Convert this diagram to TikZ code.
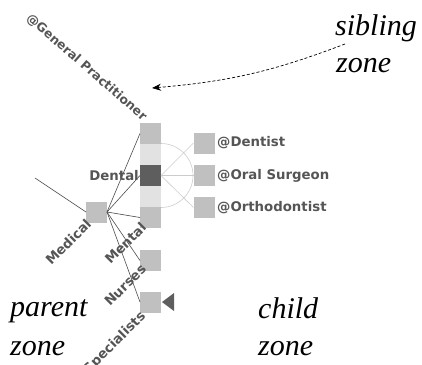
\documentclass[tikz,border=0pt]{standalone}
\usepackage{fontspec}
\setmainfont{Liberation Serif}
\newfontfamily\labelfont{DejaVu Sans}
\usetikzlibrary{arrows.meta}
\definecolor{boxgray}{HTML}{C0C0C0}
\definecolor{boxlight}{HTML}{E2E2E2}
\definecolor{boxdark}{HTML}{5E5E5E}
\definecolor{labgray}{HTML}{555555}
\definecolor{linkgray}{HTML}{CCCCCC}
\begin{document}
\begin{tikzpicture}[x=1pt,y=-1pt,
  cell/.style={rectangle,minimum width=21pt,minimum height=21pt,inner sep=0pt,outer sep=0pt},
  gbox/.style={cell,fill=boxgray},
  lbox/.style={cell,fill=boxlight},
  dbox/.style={cell,fill=boxdark},
  lab/.style={font=\labelfont\bfseries\fontsize{13.3}{15}\selectfont,text=labgray,inner sep=0pt},
  zonetxt/.style={font=\itshape\fontsize{30}{33}\selectfont,inner sep=0pt,anchor=base west},
  parentlink/.style={draw=black!70,line width=0.6pt},
  childlink/.style={draw=linkgray,line width=0.6pt}]
\useasboundingbox (0,0) rectangle (422,364);
% column
\node[gbox] (gp) at (150.5,133.5) {};
\node[lbox] (l1) at (150.5,154.5) {};
\node[dbox] (dental) at (150.5,175.5) {};
\node[lbox] (l2) at (150.5,196.5) {};
\node[gbox] (mental) at (150.5,217.5) {};
\node[gbox] (nurses) at (150.5,260.5) {};
\node[gbox] (spec) at (150.5,302) {};
\node[gbox] (medical) at (96.5,212) {};
% children
\node[gbox] (dentist) at (204,143) {};
\node[gbox] (oral) at (204,175.5) {};
\node[gbox] (ortho) at (204,207.5) {};
% arc
\draw[linkgray,line width=0.6pt] (dental.east) ++(0,-32) arc[start angle=-90,end angle=90,radius=32];
% child links
\foreach \c in {dentist,oral,ortho} \draw[childlink] (dental.east) -- (\c.west);
% parent links
\coordinate (far) at (35,178);
\draw[parentlink] (far) -- (medical.west);
\foreach \c in {gp,dental,mental,nurses,spec} \draw[parentlink] (medical.east) -- (\c.west);
% triangle
\fill[boxdark] (162,302) -- (174,293) -- (174,311) -- cycle;
% labels
\node[lab,anchor=west] at (217,143) {@Dentist};
\node[lab,anchor=west] at (217,175.5) {@Oral Surgeon};
\node[lab,anchor=west] at (217,207.5) {@Orthodontist};
\node[lab,anchor=east] at (139,176) {Dental};
\node[lab,anchor=south east,rotate=-41,font=\labelfont\bfseries\fontsize{12.4}{14}\selectfont] at ([xshift=1pt]gp.north west) {@General Practitioner};
\node[lab,anchor=north east,rotate=45] at ([xshift=-1pt,yshift=5pt]medical.south west) {Medical};
\node[lab,anchor=north east,rotate=45] at ([xshift=0pt,yshift=7pt]mental.south west) {Mental};
\node[lab,anchor=north east,rotate=45] at ([xshift=0pt,yshift=8pt]nurses.south west) {Nurses};
\node[lab,anchor=north east,rotate=45] at ([xshift=-1pt,yshift=3pt]spec.south west) {Specialists};
% zone texts
\node[zonetxt] (sib) at (335,35) {sibling};
\node[zonetxt] (sibz) at (336,72) {zone};
\node[zonetxt] (par) at (10,316) {parent};
\node[zonetxt] (parz) at (10,355) {zone};
\node[zonetxt] (chi) at (258,318) {child};
\node[zonetxt] (chiz) at (258,355) {zone};
% arrow
\coordinate (astart) at (345,44);
\coordinate (atip) at (152,88);
\draw[densely dashed,line width=0.7pt,-{Stealth[length=9pt,width=7pt]}] (astart) to[bend left=8] (atip);
\end{tikzpicture}
\end{document}
